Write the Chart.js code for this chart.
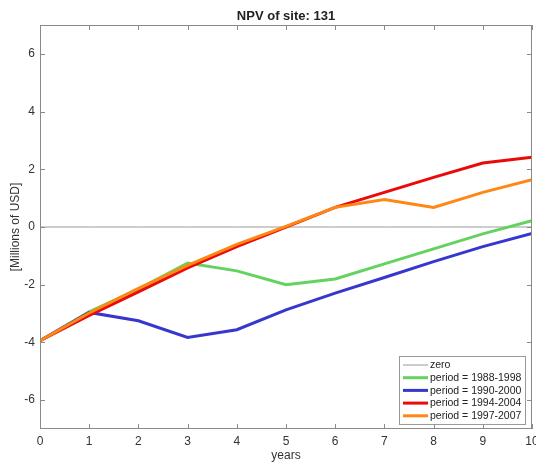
<!DOCTYPE html>
<html>
<head>
<meta charset="utf-8">
<title>NPV of site: 131</title>
<script src="https://cdn.jsdelivr.net/npm/chart.js@4/dist/chart.umd.min.js"></script>
<style>
  html, body { margin: 0; padding: 0; background: #fff; }
  canvas { display: block; }
</style>
</head>
<body>
<canvas id="npv" width="536" height="463"></canvas>
<script>
// years since start of period
const years = [0, 1, 2, 3, 4, 5, 6, 7, 8, 9, 10];

// NPV in millions of USD per period
const zeroLine   = [0, 0, 0, 0, 0, 0, 0, 0, 0, 0, 0];
const npv19881998 = [-3.94, -2.94, -2.15, -1.25, -1.52, -2.0, -1.8, -1.28, -0.76, -0.24, 0.22];
const npv19902000 = [-3.94, -2.96, -3.25, -3.83, -3.56, -2.87, -2.29, -1.75, -1.2, -0.68, -0.22];
const npv19942004 = [-3.94, -3.06, -2.25, -1.42, -0.68, 0.0, 0.68, 1.2, 1.72, 2.22, 2.42];
const npv19972007 = [-3.94, -2.98, -2.13, -1.33, -0.6, 0.02, 0.68, 0.95, 0.68, 1.2, 1.64];

const yTicks = [-6, -4, -2, 0, 2, 4, 6];

const TITLE = 'NPV of site: 131';
const FONT = '"Liberation Sans", Arial, Helvetica, sans-serif';
const AXIS_COLOR = '#8a8a8a';

const pts = vals => years.map((x, i) => ({ x: x, y: vals[i] }));

// title over the axes, axis box with inward ticks on all four sides, legend box
const matlabAxes = {
  id: 'matlabAxes',
  afterDraw(chart) {
    const ctx = chart.ctx;
    const a = chart.chartArea;
    const xs = chart.scales.x, ys = chart.scales.y;
    const tl = 5;
    ctx.save();

    ctx.font = 'bold 13px ' + FONT;
    ctx.fillStyle = '#222';
    ctx.textAlign = 'center';
    ctx.textBaseline = 'middle';
    ctx.fillText(TITLE, (a.left + a.right) / 2, 16);

    ctx.strokeStyle = AXIS_COLOR;
    ctx.lineWidth = 1;
    ctx.strokeRect(a.left + 0.5, a.top + 0.5, a.right - a.left - 1, a.bottom - a.top - 1);
    ctx.beginPath();
    xs.ticks.forEach(t => {
      const px = Math.round(xs.getPixelForValue(t.value)) + 0.5;
      ctx.moveTo(px, a.bottom); ctx.lineTo(px, a.bottom - tl);
      ctx.moveTo(px, a.top); ctx.lineTo(px, a.top + tl);
    });
    ys.ticks.forEach(t => {
      const py = Math.round(ys.getPixelForValue(t.value)) + 0.5;
      ctx.moveTo(a.left, py); ctx.lineTo(a.left + tl, py);
      ctx.moveTo(a.right, py); ctx.lineTo(a.right - tl, py);
    });
    ctx.stroke();

    // legend
    const bx = 399, by = 356, bw = 126, bh = 68, rowH = 12.7;
    ctx.fillStyle = '#fff';
    ctx.fillRect(bx, by, bw, bh);
    ctx.strokeStyle = '#999';
    ctx.strokeRect(bx + 0.5, by + 0.5, bw, bh);
    ctx.font = '10.5px ' + FONT;
    ctx.textBaseline = 'middle';
    ctx.textAlign = 'left';
    chart.data.datasets.forEach((ds, i) => {
      const y = by + 9 + i * rowH;
      ctx.strokeStyle = ds.borderColor;
      ctx.lineWidth = ds.borderWidth;
      ctx.beginPath();
      ctx.moveTo(bx + 4, y);
      ctx.lineTo(bx + 29, y);
      ctx.stroke();
      ctx.fillStyle = '#222';
      ctx.fillText(ds.label, bx + 31, y + 0.5);
    });
    ctx.restore();
  }
};

const lineSet = (label, vals, color, width, order) => ({
  label: label,
  data: pts(vals),
  borderColor: color,
  backgroundColor: color,
  borderWidth: width,
  pointRadius: 0,
  tension: 0,
  fill: false,
  order: order
});

new Chart(document.getElementById('npv'), {
  type: 'line',
  data: {
    datasets: [
      lineSet('zero', zeroLine, '#9a9a9a', 1, 5),
      lineSet('period = 1988-1998', npv19881998, 'rgb(100,210,95)', 3, 4),
      lineSet('period = 1990-2000', npv19902000, 'rgb(55,55,205)', 3, 3),
      lineSet('period = 1994-2004', npv19942004, 'rgb(235,10,10)', 3, 2),
      lineSet('period = 1997-2007', npv19972007, 'rgb(255,135,20)', 3, 1)
    ]
  },
  options: {
    responsive: false,
    animation: false,
    layout: { padding: { left: 0, right: 4, top: 25, bottom: 0 } },
    plugins: {
      legend: { display: false },
      tooltip: { enabled: false },
      title: { display: false }
    },
    scales: {
      x: {
        type: 'linear',
        min: 0,
        max: 10,
        grid: { display: false, drawTicks: false },
        border: { display: false },
        ticks: { stepSize: 1, padding: 5, color: '#333', font: { family: FONT, size: 12 }, maxRotation: 0 },
        title: { display: true, text: 'years', color: '#333', font: { family: FONT, size: 12 }, padding: { top: 0, bottom: 0 } },
        afterFit: s => { s.height = 34; s.paddingLeft = 0; s.paddingRight = 0; }
      },
      y: {
        min: -7,
        max: 7,
        grid: { display: false, drawTicks: false },
        border: { display: false },
        ticks: { padding: 5, color: '#333', font: { family: FONT, size: 12 } },
        afterBuildTicks: s => { s.ticks = yTicks.map(v => ({ value: v })); },
        title: { display: true, text: '[Millions of USD]', color: '#333', font: { family: FONT, size: 12 }, padding: { top: 8, bottom: 0 } },
        afterFit: s => { s.width = 40; s.paddingTop = 0; s.paddingBottom = 0; }
      }
    }
  },
  plugins: [matlabAxes]
});
</script>
</body>
</html>
